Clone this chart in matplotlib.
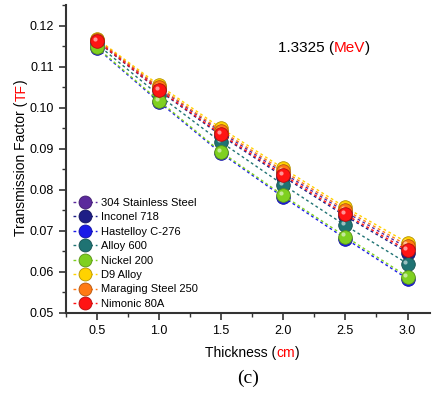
import matplotlib
matplotlib.use("Agg")
import matplotlib.pyplot as plt
import matplotlib.colors as mcolors
from matplotlib.transforms import offset_copy
from matplotlib.ticker import MultipleLocator

plt.rcParams["font.family"] = ["Liberation Sans", "DejaVu Sans"]

# data
thickness = [0.5, 1.0, 1.5, 2.0, 2.5, 3.0]
names = ["304 Stainless Steel", "Inconel 718", "Hastelloy C-276", "Alloy 600",
         "Nickel 200", "D9 Alloy", "Maraging Steel 250", "Nimonic 80A"]
ss304 = [0.1165, 0.1048, 0.0940, 0.0841, 0.0746, 0.0658]
inconel718 = [0.1162, 0.1042, 0.0932, 0.0832, 0.0736, 0.0647]
hastelloy = [0.1145, 0.1014, 0.0889, 0.0782, 0.0681, 0.0583]
alloy600 = [0.1155, 0.1030, 0.0916, 0.0812, 0.0713, 0.0620]
nickel200 = [0.1147, 0.1017, 0.0892, 0.0786, 0.0686, 0.0588]
d9alloy = [0.1168, 0.1055, 0.0950, 0.0852, 0.0757, 0.0671]
maraging250 = [0.1166, 0.1050, 0.0944, 0.0846, 0.0751, 0.0664]
nimonic80a = [0.1163, 0.1044, 0.0935, 0.0836, 0.0740, 0.0652]
series = [ss304, inconel718, hastelloy, alloy600, nickel200, d9alloy, maraging250, nimonic80a]
colors = ["#5B2A9C", "#1E1E86", "#1A1AE8", "#1F7373", "#7FD020",
          "#FFD200", "#FF7A14", "#FF1414"]

fig = plt.figure(figsize=(4.36, 3.94), dpi=100)
ax = fig.add_axes([0.151, 0.206, 0.835, 0.781])

hl = offset_copy(ax.transData, fig=fig, x=-1.5, y=1.5, units="points")
for name, vals, c in zip(names, series, colors):
    dark = [v * 0.7 for v in mcolors.to_rgb(c)]
    ax.plot(thickness, vals, linestyle=(0, (2, 2)), lw=1, color=c,
            marker="o", ms=9.8, mfc=c, mec=dark, mew=0.6, label=name)
    # small highlight to mimic the glossy spheres
    ax.plot(thickness, vals, linestyle="none", marker="o", ms=3,
            mfc="white", mec="none", alpha=0.55, transform=hl)

ax.set_xlim(0.25, 3.18)
ax.set_ylim(0.05, 0.125)
ax.xaxis.set_minor_locator(MultipleLocator(0.25))
ax.yaxis.set_minor_locator(MultipleLocator(0.005))
ax.set_xticks(thickness)
ax.set_xticklabels(["0.5", "1.0", "1.5", "2.0", "2.5", "3.0"])
ax.set_yticks([0.05, 0.06, 0.07, 0.08, 0.09, 0.10, 0.11, 0.12])
ax.set_yticklabels(["0.05", "0.06", "0.07", "0.08", "0.09", "0.10", "0.11", "0.12"])
ax.tick_params(which="major", direction="out", length=5, width=1.2, labelsize=9, color="#333333")
ax.tick_params(which="minor", direction="out", length=3, width=1.0, color="#333333")
for s in ["top", "right"]:
    ax.spines[s].set_visible(False)
for s in ["left", "bottom"]:
    ax.spines[s].set_linewidth(1.5)
    ax.spines[s].set_color("#333333")

ax.legend(loc="lower left", bbox_to_anchor=(-0.005, -0.016), frameon=False, fontsize=8,
          handlelength=2.2, handletextpad=0.35, labelspacing=0.4, borderpad=0.3,
          numpoints=1, markerscale=0.95)

renderer = fig.canvas.get_renderer()


# multi colour text helper (pieces placed one after another)
def colored_text(x, y, parts, size, rotation=0):
    widths = []
    for txt, c in parts:
        t = fig.text(0, 0, txt, fontsize=size)
        widths.append(t.get_window_extent(renderer).width)
        t.remove()
    total = sum(widths)
    W, H = fig.bbox.width, fig.bbox.height
    pos = (x * W if rotation == 0 else y * H) - total / 2
    for (txt, c), w in zip(parts, widths):
        if rotation == 0:
            fig.text(pos / W, y, txt, color=c, fontsize=size, ha="left", va="baseline")
        else:
            fig.text(x, pos / H, txt, color=c, fontsize=size, ha="left", va="baseline",
                     rotation=90, rotation_mode="anchor")
        pos += w


colored_text(0.578, 0.093, [("Thickness (", "black"), ("cm", "red"), (")", "black")], 10)
colored_text(0.058, 0.6, [("Transmission Factor (", "black"), ("TF", "red"), (")", "black")], 10, rotation=90)
colored_text(0.743, 0.868, [("1.3325 (", "black"), ("MeV", "red"), (")", "black")], 11)
fig.text(0.568, 0.027, "(c)", fontsize=14, family="Liberation Serif", ha="center", va="baseline")

fig.savefig("out.png", dpi=100)
